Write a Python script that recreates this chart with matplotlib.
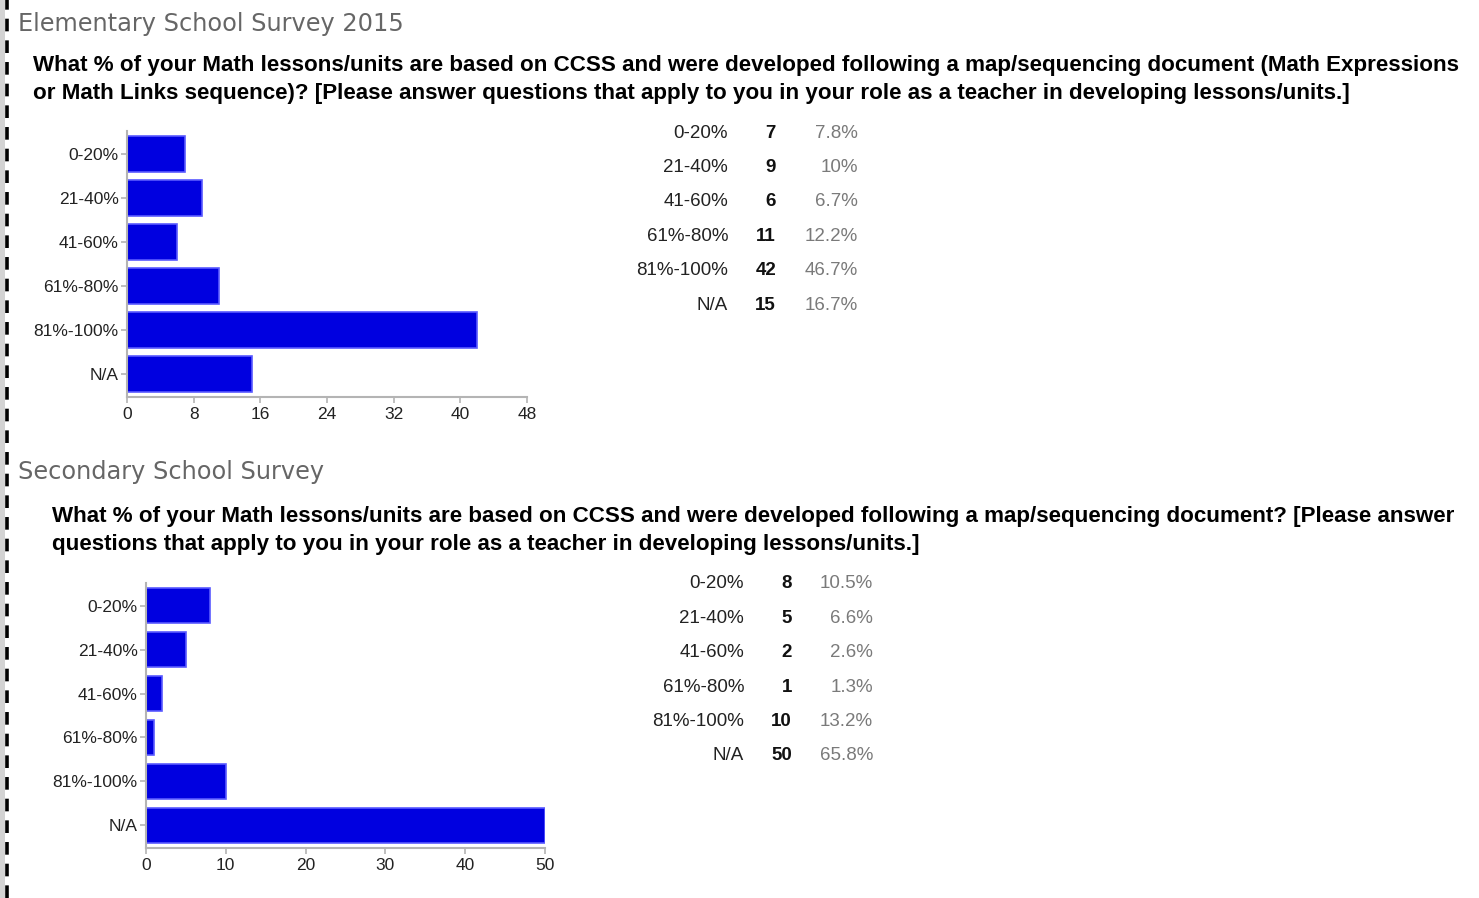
import matplotlib
matplotlib.use("Agg")
import matplotlib.pyplot as plt
from matplotlib.lines import Line2D
from matplotlib.patches import Rectangle

W, H = 1479, 898

categories = ["0-20%", "21-40%", "41-60%", "61%-80%", "81%-100%", "N/A"]

elem_title = "Elementary School Survey 2015"
elem_question = ("What % of your Math lessons/units are based on CCSS and were developed following a map/sequencing document (Math Expressions\n"
                 "or Math Links sequence)? [Please answer questions that apply to you in your role as a teacher in developing lessons/units.]")
elem_counts = [7, 9, 6, 11, 42, 15]
elem_ticks = [0, 8, 16, 24, 32, 40, 48]

sec_title = "Secondary School Survey"
sec_question = ("What % of your Math lessons/units are based on CCSS and were developed following a map/sequencing document? [Please answer\n"
                "questions that apply to you in your role as a teacher in developing lessons/units.]")
sec_counts = [8, 5, 2, 1, 10, 50]
sec_ticks = [0, 10, 20, 30, 40, 50]

BAR = "#0000e0"
EDGE = "#5a5aff"
SPINE = "#b4b4b4"
SANS = ["Liberation Sans", "DejaVu Sans"]


def fx(px):
    return px / W


def fy(py):
    return 1 - py / H


def pct_label(count, total):
    s = f"{count / total * 100:.1f}"
    if s.endswith(".0"):
        s = s[:-2]
    return s + "%"


def draw_section(fig, title, title_x, title_y, question, q_x, q_y,
                 counts, ticks, ax_box, table_x, table_y0):
    fig.text(fx(title_x), fy(title_y), title, fontsize=17.3, color="#666666",
             family=["DejaVu Sans"], fontweight="normal", va="center", ha="left")
    fig.text(fx(q_x), fy(q_y), question, fontsize=16.1, color="black",
             family=SANS, fontweight="bold", va="top", ha="left", linespacing=1.44)

    left, top, right, bottom = ax_box
    ax = fig.add_axes([fx(left), fy(bottom), fx(right - left), (bottom - top) / H])
    y = list(range(len(categories)))
    ax.barh(y, counts, height=0.8, color=BAR, edgecolor=EDGE, linewidth=1.2)
    ax.set_xlim(ticks[0], ticks[-1])
    ax.set_ylim(len(categories) - 0.48, -0.52)
    ax.set_yticks(y)
    ax.set_yticklabels(categories)
    ax.set_xticks(ticks)
    for side in ["top", "right"]:
        ax.spines[side].set_visible(False)
    for side in ["left", "bottom"]:
        ax.spines[side].set_color(SPINE)
        ax.spines[side].set_linewidth(1.5)
    ax.tick_params(axis="both", colors=SPINE, labelcolor="#222222", labelsize=12.5,
                   length=4, width=1.2, pad=2)
    ax.tick_params(axis="x", pad=3.5)
    for lbl in ax.get_xticklabels() + ax.get_yticklabels():
        lbl.set_family(SANS)
    ax.set_facecolor("white")

    # summary table to the right of the chart
    total = sum(counts)
    lab_x, cnt_x, pct_x = table_x
    for i, (cat, c) in enumerate(zip(categories, counts)):
        ty = fy(table_y0 + i * 34.4)
        fig.text(fx(lab_x), ty, cat, fontsize=13.5, color="#222222", family=SANS,
                 ha="right", va="center")
        fig.text(fx(cnt_x), ty, str(c), fontsize=13.5, color="#111111", family=SANS,
                 fontweight="bold", ha="right", va="center")
        fig.text(fx(pct_x), ty, pct_label(c, total), fontsize=13.5, color="#7a7a7a",
                 family=SANS, ha="right", va="center")
    return ax


fig = plt.figure(figsize=(W / 100, H / 100), dpi=100)
fig.patch.set_facecolor("white")

# gray margin strip with dashed border on the left
fig.add_artist(Rectangle((0, 0), fx(5), 1, transform=fig.transFigure,
                         facecolor="#d3d3d3", edgecolor="none"))
fig.add_artist(Line2D([fx(6.5), fx(6.5)], [0, 1], transform=fig.transFigure,
                      color="black", linewidth=2.6, linestyle=(0, (3.5, 2.5))))

draw_section(fig, elem_title, 18, 24, elem_question, 33, 55,
             elem_counts, elem_ticks, (127, 131, 527, 397),
             (728, 776, 858), 133)
draw_section(fig, sec_title, 18, 472, sec_question, 52, 506,
             sec_counts, sec_ticks, (146, 583, 545, 848),
             (744, 792, 873), 584)

fig.savefig("out.png", dpi=100)
